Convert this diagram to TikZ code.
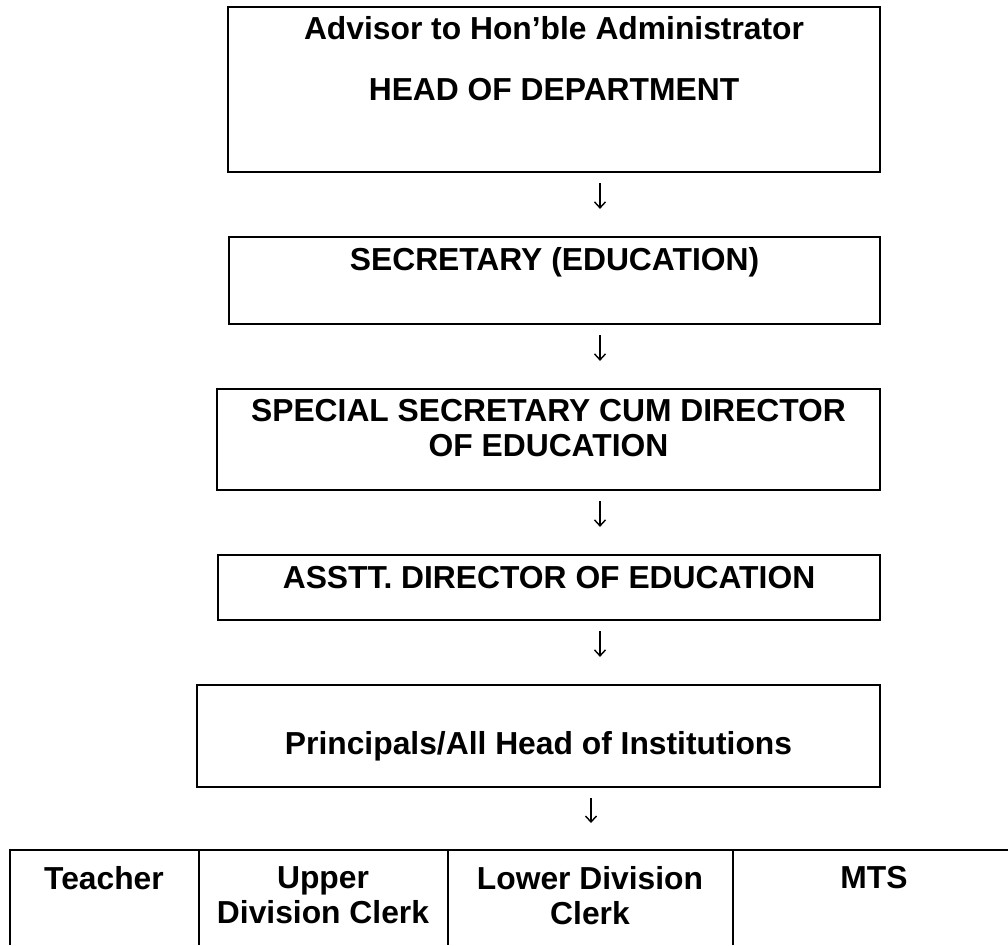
\documentclass[tikz,border=0pt]{standalone}
\usepackage{fontspec}
\setmainfont{Liberation Sans}
\usetikzlibrary{arrows.meta}

\tikzset{
  post/.style={draw, line width=2.2pt, inner sep=0pt},
  title/.style={anchor=north, inner sep=0pt, align=center, font=\fontsize{31.8pt}{35pt}\selectfont\bfseries},
  flow/.style={line width=1.4pt, -{Straight Barb[length=6pt,width=11pt]}, shorten <=10pt, shorten >=27pt},
  rule/.style={line width=2pt}
}

\begin{document}
\begin{tikzpicture}[x=1pt,y=-1pt]
\useasboundingbox (0,0) rectangle (1008,945);
\node[post, minimum width=652pt, minimum height=165pt] (hod) at (554,89.5) {};
\node[title] (hodA) at ([yshift=-10pt]hod.north) {Advisor to Hon’ble Administrator};
\node[title] (hodB) at ([yshift=-72pt]hod.north) {HEAD OF DEPARTMENT};
\node[post, minimum width=651pt, minimum height=87pt] (sec) at (554.5,280.5) {};
\node[title] (secA) at ([yshift=-11pt]sec.north) {SECRETARY (EDUCATION)};
\node[post, minimum width=663pt, minimum height=101pt] (ssd) at (548.5,439.5) {};
\node[title] (ssdA) at ([yshift=-11pt]ssd.north) {SPECIAL SECRETARY CUM DIRECTOR\\OF EDUCATION};
\node[post, minimum width=662pt, minimum height=65pt] (ade) at (549,587.5) {};
\node[title] (adeA) at ([yshift=-12pt]ade.north) {ASSTT. DIRECTOR OF EDUCATION};
\node[post, minimum width=683pt, minimum height=102pt] (hoi) at (538.5,736) {};
\node[title] (hoiA) at ([yshift=-47pt]hoi.north) {Principals/All Head of Institutions};
\draw[flow] (600,0 |- hod.south) -- (600,0 |- sec.north);
\draw[flow] (600,0 |- sec.south) -- (600,0 |- ssd.north);
\draw[flow] (600,0 |- ssd.south) -- (600,0 |- ade.north);
\draw[flow] (600,0 |- ade.south) -- (600,0 |- hoi.north);
\coordinate (staff) at (10,850);
\draw[flow] (591,0 |- hoi.south) -- (591,0 |- staff);
\draw[rule] (1008,850) -- (staff) -- (10,945);
\draw[rule] (199,850) -- (199,945);
\draw[rule] (448,850) -- (448,945);
\draw[rule] (733,850) -- (733,945);
\node[title] (teach) at (104,866) {Teacher};
\node[title] (udc) at (323,866) {Upper\\Division Clerk};
\node[title] (ldc) at (590,866) {Lower Division\\Clerk};
\node[title] (mts) at (874,866) {MTS};
\end{tikzpicture}
\end{document}
